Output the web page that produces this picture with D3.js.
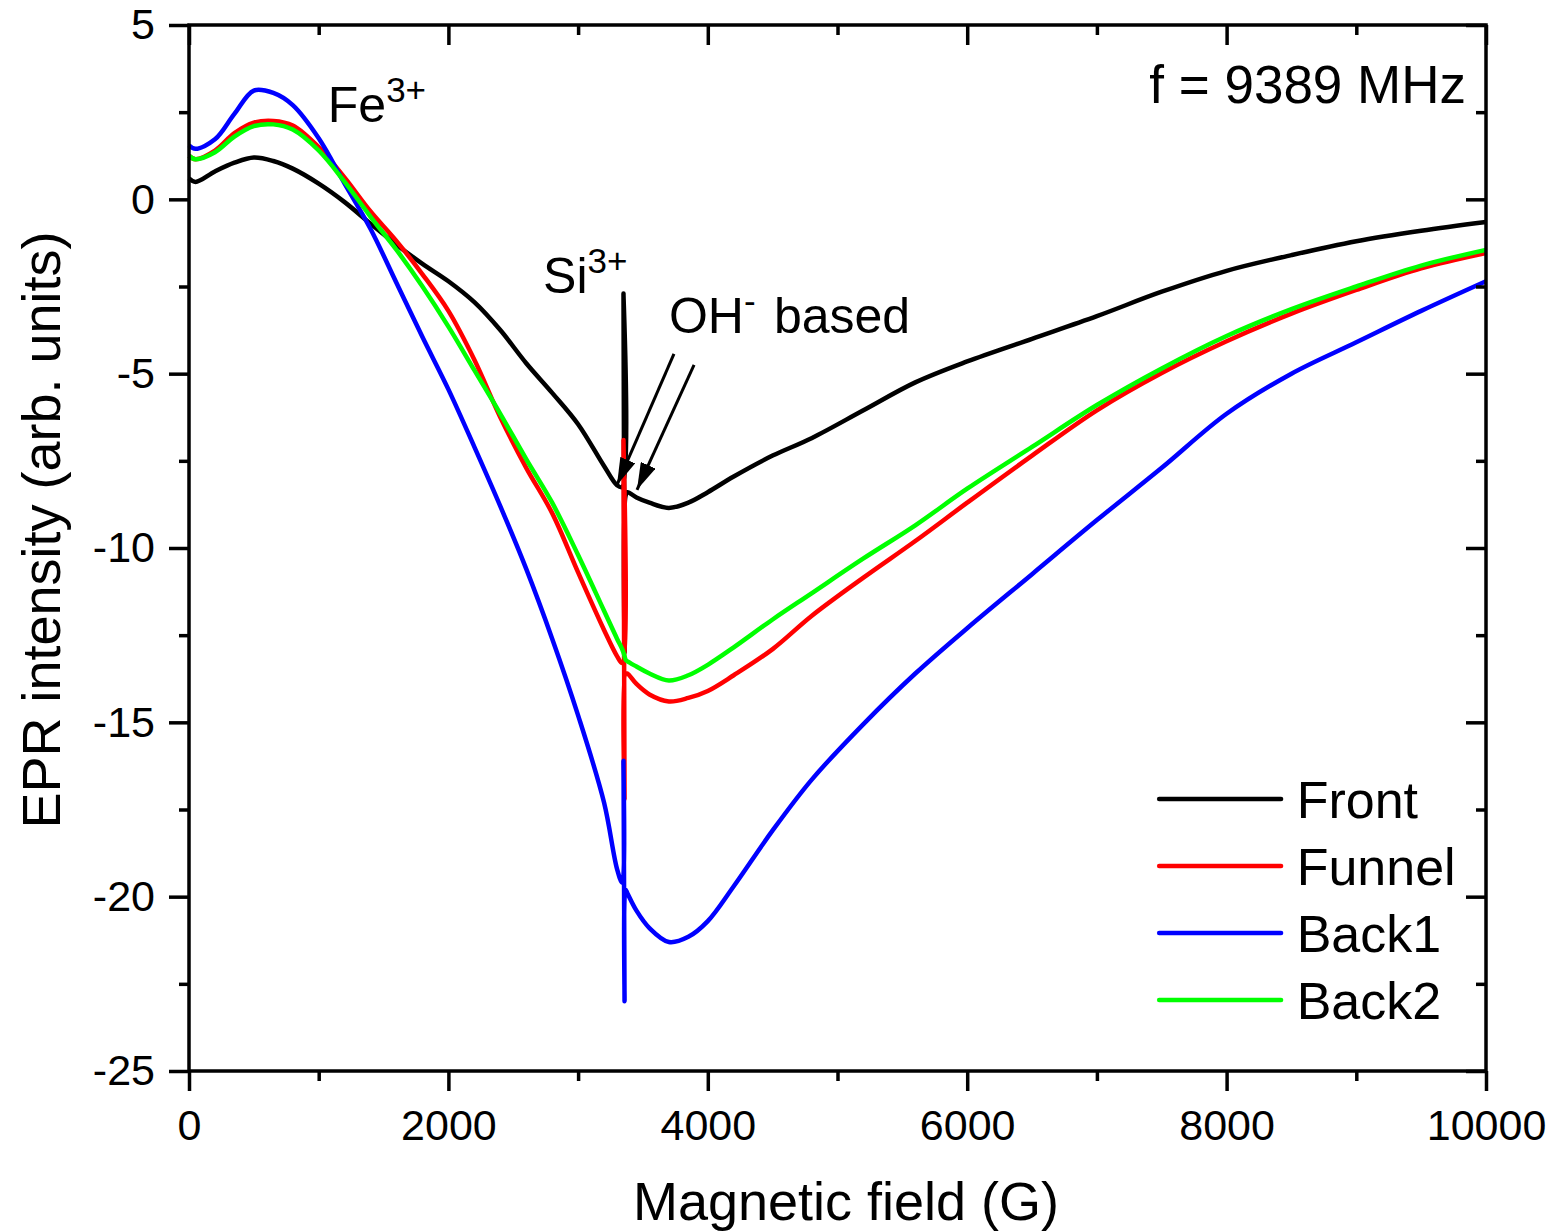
<!DOCTYPE html>
<html>
<head>
<meta charset="utf-8">
<script src="https://cdn.jsdelivr.net/npm/d3@7"></script>
<style>
  body { margin: 0; background: #fff; }
  svg text { font-family: "Liberation Sans", Arial, sans-serif; fill: #000; }
</style>
</head>
<body>
<div id="chart"></div>
<script>
// magnetic field grid (G), values for each sample
const field = [0, 50, 200, 350, 500, 650, 800, 1000, 1200, 1400, 1600, 1800, 2000, 2200, 2400, 2600, 2800, 3000, 3200, 3300, 3340, 3350, 3358, 3366, 3380, 3450, 3550, 3700, 3850, 4000, 4200, 4500, 4800, 5200, 5600, 6000, 6500, 7000, 7500, 8000, 8500, 9000, 9500, 10000];
const front  = [0.6, 0.5, 0.8, 1.05, 1.2, 1.1, 0.88, 0.45, -0.08, -0.7, -1.3, -1.85, -2.35, -2.95, -3.75, -4.7, -5.55, -6.45, -7.65, -8.2, -8.25, -2.7, -13.0, -8.5, -8.4, -8.55, -8.7, -8.85, -8.7, -8.4, -7.95, -7.35, -6.85, -6.05, -5.25, -4.65, -4.0, -3.35, -2.65, -2.05, -1.6, -1.2, -0.9, -0.65];
const funnel = [1.25, 1.15, 1.4, 1.9, 2.2, 2.25, 2.12, 1.5, 0.62, -0.35, -1.2, -2.15, -3.2, -4.6, -6.25, -7.7, -9.0, -10.7, -12.35, -13.1, -13.3, -6.9, -17.2, -13.6, -13.6, -13.9, -14.2, -14.4, -14.3, -14.1, -13.65, -12.9, -11.95, -10.85, -9.8, -8.7, -7.35, -6.05, -4.98, -4.07, -3.28, -2.6, -1.98, -1.54];
const back1  = [1.55, 1.45, 1.72, 2.45, 3.12, 3.05, 2.7, 1.75, 0.45, -0.85, -2.4, -3.95, -5.45, -7.1, -8.8, -10.6, -12.6, -14.8, -17.3, -19.2, -19.6, -16.1, -23.0, -19.8, -19.9, -20.4, -20.9, -21.3, -21.15, -20.7, -19.7, -18.1, -16.65, -15.05, -13.6, -12.3, -10.75, -9.2, -7.7, -6.15, -5.0, -4.1, -3.2, -2.35];
const back2  = [1.25, 1.15, 1.35, 1.8, 2.1, 2.15, 2.0, 1.4, 0.5, -0.5, -1.45, -2.5, -3.65, -4.9, -6.15, -7.45, -8.7, -10.2, -11.8, -12.6, -12.9, -13.0, -13.1, -13.2, -13.25, -13.4, -13.6, -13.8, -13.65, -13.35, -12.85, -12.05, -11.3, -10.3, -9.35, -8.3, -7.1, -5.9, -4.85, -3.92, -3.15, -2.5, -1.9, -1.45];

const seriesNames = ["Front", "Funnel", "Back1", "Back2"];
const seriesValues = [front, funnel, back1, back2];
const seriesColors = ["#000000", "#ff0000", "#0000ff", "#00ff00"];

const xMajor = [0, 2000, 4000, 6000, 8000, 10000];
const xMinor = [1000, 3000, 5000, 7000, 9000];
const yMajor = [-25, -20, -15, -10, -5, 0, 5];
const yMinor = [-22.5, -17.5, -12.5, -7.5, -2.5, 2.5];

const W = 1562, H = 1232;
const margin = {left: 189, top: 25, right: 76, bottom: 161};
const width = W - margin.left - margin.right,
      height = H - margin.top - margin.bottom;

const svg = d3.select("#chart").append("svg")
    .attr("width", W)
    .attr("height", H);

const g = svg.append("g")
    .attr("transform", "translate(" + margin.left + "," + margin.top + ")");

const x = d3.scaleLinear().domain([0, 10000]).range([0, width]);
const y = d3.scaleLinear().domain([-25, 5]).range([height, 0]);

// curves
const line = d3.line()
    .x(function (d) { return x(d[0]); })
    .y(function (d) { return y(d[1]); })
    .curve(d3.curveCatmullRom.alpha(0.5));

seriesValues.forEach(function (vals, i) {
    g.append("path")
        .datum(field.map(function (f, j) { return [f, vals[j]]; }))
        .attr("fill", "none")
        .attr("stroke", seriesColors[i])
        .attr("stroke-width", 4.5)
        .attr("stroke-linejoin", "round")
        .attr("d", line);
});

// axes: major + minor ticks on all four sides
function styleAxis(sel) {
    sel.selectAll(".domain").remove();
    sel.selectAll(".tick line").attr("stroke", "#000").attr("stroke-width", 3.5);
    sel.selectAll(".tick text").style("font-size", "43px");
}
const plain = function (d) { return String(d); };

g.append("g").attr("transform", "translate(0," + height + ")")
    .call(d3.axisBottom(x).tickValues(xMajor).tickSize(20).tickPadding(18).tickFormat(plain))
    .call(styleAxis);
g.append("g").attr("transform", "translate(0," + height + ")")
    .call(d3.axisBottom(x).tickValues(xMinor).tickSize(10).tickFormat(""))
    .call(styleAxis);
g.append("g")
    .call(d3.axisLeft(y).tickValues(yMajor).tickSize(20).tickPadding(14).tickFormat(plain))
    .call(styleAxis);
g.append("g")
    .call(d3.axisLeft(y).tickValues(yMinor).tickSize(10).tickFormat(""))
    .call(styleAxis);
g.append("g")
    .call(d3.axisTop(x).tickValues(xMajor).tickSize(-20).tickFormat(""))
    .call(styleAxis);
g.append("g")
    .call(d3.axisTop(x).tickValues(xMinor).tickSize(-10).tickFormat(""))
    .call(styleAxis);
g.append("g").attr("transform", "translate(" + width + ",0)")
    .call(d3.axisRight(y).tickValues(yMajor).tickSize(-20).tickFormat(""))
    .call(styleAxis);
g.append("g").attr("transform", "translate(" + width + ",0)")
    .call(d3.axisRight(y).tickValues(yMinor).tickSize(-10).tickFormat(""))
    .call(styleAxis);

// frame
g.append("rect")
    .attr("width", width)
    .attr("height", height)
    .attr("fill", "none")
    .attr("stroke", "#000")
    .attr("stroke-width", 3.5);

// axis titles
svg.append("text")
    .attr("x", 846)
    .attr("y", 1220)
    .attr("text-anchor", "middle")
    .style("font-size", "54px")
    .text("Magnetic field (G)");

svg.append("text")
    .attr("transform", "translate(60,530) rotate(-90)")
    .attr("text-anchor", "middle")
    .style("font-size", "54px")
    .text("EPR intensity (arb. units)");

// legend
const legend = g.append("g");
seriesNames.forEach(function (name, i) {
    const ly = y(-17.2) + i * 67;
    legend.append("line")
        .attr("x1", x(7480)).attr("x2", x(8420))
        .attr("y1", ly).attr("y2", ly)
        .attr("stroke", seriesColors[i])
        .attr("stroke-width", 4.5)
        .attr("stroke-linecap", "round");
    legend.append("text")
        .attr("x", x(8540))
        .attr("y", ly)
        .attr("dy", "0.36em")
        .style("font-size", "52px")
        .text(name);
});

// annotations
g.append("text")
    .attr("x", width - 20)
    .attr("y", 78)
    .attr("text-anchor", "end")
    .style("font-size", "53px")
    .text("f = 9389 MHz");

function supLabel(px, py, base, sup) {
    const t = g.append("text").attr("x", px).attr("y", py).style("font-size", "50px");
    t.append("tspan").text(base);
    t.append("tspan").attr("dy", -20).style("font-size", "35px").text(sup);
}
supLabel(x(1070), y(2.22), "Fe", "3+");
supLabel(x(2730), y(-2.69), "Si", "3+");
supLabel(x(3700), y(-3.83), "OH", "-");
g.append("text").attr("x", x(4510)).attr("y", y(-3.83)).style("font-size", "50px").text("based");

// arrows for the OH- based lines
svg.append("defs").append("marker")
    .attr("id", "head")
    .attr("viewBox", "0 0 10 6")
    .attr("refX", 10).attr("refY", 3)
    .attr("markerWidth", 9).attr("markerHeight", 5.4)
    .attr("markerUnits", "strokeWidth")
    .attr("orient", "auto")
    .append("path")
    .attr("d", "M0,0 L10,3 L0,6 Z")
    .attr("fill", "#000");

const arrows = [[3739, -4.43, 3300, -8.19], [3894, -4.75, 3454, -8.33]];
arrows.forEach(function (a) {
    g.append("line")
        .attr("x1", x(a[0])).attr("y1", y(a[1]))
        .attr("x2", x(a[2])).attr("y2", y(a[3]))
        .attr("stroke", "#000")
        .attr("stroke-width", 3)
        .attr("marker-end", "url(#head)");
});
</script>
</body>
</html>
